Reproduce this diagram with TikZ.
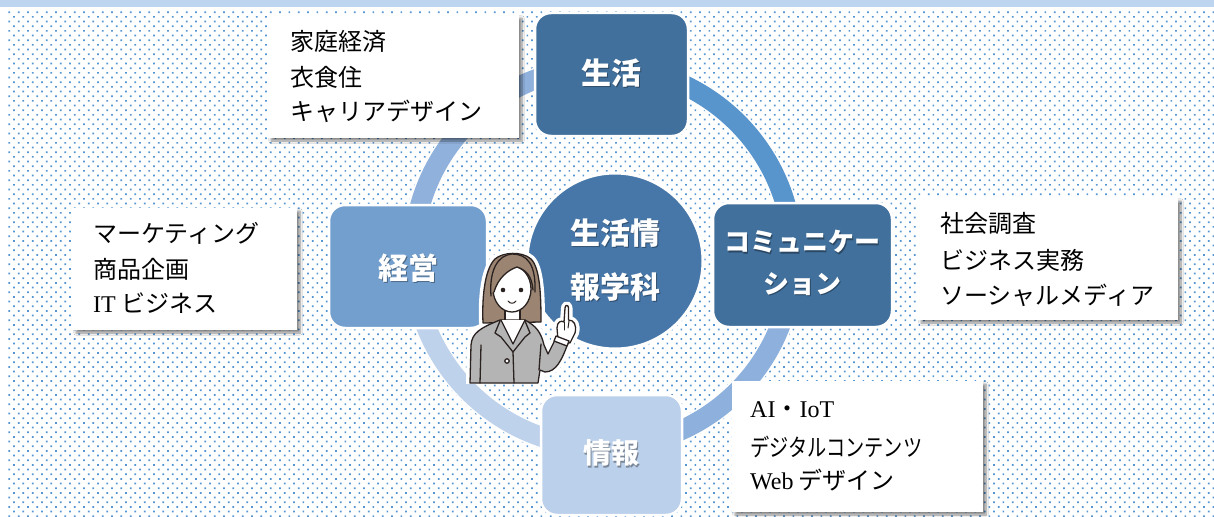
\documentclass[tikz,border=0pt]{standalone}
\usepackage{fontspec}
\usepackage{graphicx}
\setmainfont{Noto Sans CJK JP}
\newfontfamily\latserif{Liberation Serif}
\usetikzlibrary{patterns.meta,shadows.blur}

\definecolor{stripe}{HTML}{BDD5EE}
\definecolor{dotblue}{HTML}{5596D2}
\definecolor{deepbox}{HTML}{41709C}
\definecolor{hubblue}{HTML}{4777A8}
\definecolor{midbox}{HTML}{729FCE}
\definecolor{palebox}{HTML}{BBD0EA}
\definecolor{ringNE}{HTML}{5995CD}
\definecolor{ringSE}{HTML}{8DB0DD}
\definecolor{ringSW}{HTML}{BED2EB}
\definecolor{ringNW}{HTML}{90B1DB}
\definecolor{hair}{HTML}{9C8472}
\definecolor{suit}{HTML}{B4B4B4}
\definecolor{ink}{HTML}{2A2220}

\begin{document}
\begin{tikzpicture}[x=1pt,y=-1pt,
  topic/.style={draw=white, line width=2.5pt, rounded corners=16pt, inner sep=0pt},
  topiclabel/.style={text=white, font=\bfseries\fontsize{#1}{#1}\selectfont, inner sep=0pt},
  labelshade/.style={text=black, opacity=0.35, font=\bfseries\fontsize{#1}{#1}\selectfont, inner sep=0pt},
  listbox/.style={fill=white, inner sep=0pt,
    blur shadow={shadow xshift=3pt, shadow yshift=-3pt, shadow blur steps=8, shadow opacity=45}},
  listitem/.style={anchor=west, inner sep=0pt, font=\fontsize{24}{28}\selectfont},
  ringarc/.style={line width=20pt},
  outline/.style={draw=ink, line width=1.3pt, line join=round, line cap=round},
  backhair/.style={insert path={(483,323) .. controls (482,300) and (484,270) .. (495,259)
      .. controls (503,252) and (522,251) .. (531,259)
      .. controls (540,268) and (541,295) .. (541,322) -- cycle}},
  jacket/.style={insert path={(470,383) -- (471,345) .. controls (472,333) and (480,328) .. (500,320)
      -- (525,320) .. controls (536,326) and (541,332) .. (544,345) -- (548,354) -- (556,338)
      -- (568,343) .. controls (562,360) and (556,372) .. (545,372) -- (540,370) -- (538,383) -- cycle}},
  handshape/.style={insert path={(558,340) -- (557,328) .. controls (557,322) and (561,320) .. (564,322)
      -- (565,308) .. controls (565,304.5) and (568.5,304.5) .. (568.5,308) -- (568.5,320)
      .. controls (574,320) and (577,325) .. (575,333) -- (570,343) -- cycle}},
]

% page, top band and dotted field
\path[fill=white] (0,0) rectangle (1214,516);
\fill[stripe] (0,0) rectangle (1214,7);
\fill[pattern={Dots[distance=6.6pt, angle=45, radius=1.2pt]}, pattern color=dotblue]
  (8,10) rectangle (1214,516);

% cycle ring
\coordinate (ringc) at (603,257);
\draw[white, line width=23pt] (ringc) circle[radius=190];
\draw[ringarc, ringNE] ([shift={(270:190)}]ringc) arc[start angle=270, end angle=360, radius=190];
\draw[ringarc, ringSE] ([shift={(0:190)}]ringc) arc[start angle=0, end angle=90, radius=190];
\draw[ringarc, ringSW] ([shift={(90:190)}]ringc) arc[start angle=90, end angle=180, radius=190];
\draw[ringarc, ringNW] ([shift={(180:190)}]ringc) arc[start angle=180, end angle=270, radius=190];

% central circle
\node[circle, fill=hubblue, draw=white, line width=3pt, minimum size=176pt, inner sep=0pt] (hub) at (615,261) {};
\node[labelshade=30] (hubs1) at (616.5,234.5) {生活情};
\node[labelshade=30] (hubs2) at (616.5,288.5) {報学科};
\node[topiclabel=30] (hubt1) at (615,233) {生活情};
\node[topiclabel=30] (hubt2) at (615,287) {報学科};

% topic boxes
\node[topic, fill=deepbox, minimum width=153pt, minimum height=123pt] (life) at (611.5,74.5) {};
\node[topic, fill=deepbox, minimum width=179pt, minimum height=124pt] (comm) at (802.5,265) {};
\node[topic, fill=midbox, minimum width=158pt, minimum height=123pt] (mgmt) at (408,266.5) {};
\node[topic, fill=palebox, minimum width=141pt, minimum height=120pt] (info) at (611.5,455) {};

\node[labelshade=30] (lifes) at (612.5,74.5) {生活};
\node[topiclabel=30] (lifet) at (611,73) {生活};
\node[labelshade=26] (comms1) at (803.5,243.5) {コミュニケー};
\node[labelshade=26] (comms2) at (803.5,285.5) {ション};
\node[topiclabel=26] (commt1) at (802,242) {コミュニケー};
\node[topiclabel=26] (commt2) at (802,284) {ション};
\node[labelshade=30] (mgmts) at (409.5,269.5) {経営};
\node[topiclabel=30] (mgmtt) at (408,268) {経営};
\node[labelshade=28] (infos) at (612.5,454.5) {情報};
\node[topiclabel=28] (infot) at (611,453) {情報};

% subject lists
\node[listbox, minimum width=251pt, minimum height=123pt] (lifelist) at (393.5,76.5) {};
\node[listitem] (life1) at (290,42) {家庭経済};
\node[listitem] (life2) at (290,77) {衣食住};
\node[listitem] (life3) at (290,111) {キャリアデザイン};

\node[listbox, minimum width=224pt, minimum height=122pt] (mgmtlist) at (185,269) {};
\node[listitem] (mgmt1) at (93,233) {マーケティング};
\node[listitem] (mgmt2) at (93,269) {商品企画};
\node[listitem] (mgmt3) at (93,303) {{\latserif IT} ビジネス};

\node[listbox, minimum width=260pt, minimum height=122pt] (commlist) at (1048,259) {};
\node[listitem] (comm1) at (940,223) {社会調査};
\node[listitem] (comm2) at (940,260) {ビジネス実務};
\node[listitem] (comm3) at (940,295) {ソーシャルメディア};

\node[listbox, minimum width=251pt, minimum height=131pt] (infolist) at (857.5,446.5) {};
\node[listitem] (info1) at (750,410) {{\latserif AI}・{\latserif IoT}};
\node[listitem] (info2) at (750,447) {\scalebox{0.8}[1]{デジタルコンテンツ}};
\node[listitem] (info3) at (750,480) {{\latserif Web} デザイン};

% presenter figure: white halo first
\begin{scope}
  \clip (440,230) rectangle (600,383);
  \path[draw=white, line width=8pt, line join=round, backhair];
  \path[draw=white, line width=8pt, line join=round, jacket];
  \path[draw=white, line width=8pt, line join=round, handshape];
\end{scope}
% hair behind the head
\path[fill=hair, outline, backhair];
% neck
\path[fill=white, outline] (505,304) -- (505,321) -- (520,321) -- (520,304);
% jacket with arm
\path[fill=suit, outline, jacket];
\path[fill=white, outline] (501,320) -- (513,344) -- (525,320);
\draw[outline] (500,321) -- (495,333) -- (501,337) -- (513,352);
\draw[outline] (525,321) -- (530,333) -- (525,337) -- (513,352);
\draw[outline] (513,352) -- (514,383);
\draw[outline] (481,345) -- (480,383);
\draw[outline] (541,344) -- (539,370);
\path[fill=white, outline] (507,361) circle[radius=2.2];
% face and fringe
\path[fill=white, outline] (512,289) ellipse[x radius=19, y radius=23];
\path[fill=hair] (494,292) .. controls (498,278) and (508,270) .. (517,267)
  .. controls (526,270) and (532,276) .. (533,290) -- (536,282)
  .. controls (536,262) and (526,254) .. (512,254)
  .. controls (498,254) and (489,264) .. (490,292) -- cycle;
\draw[outline] (494,292) .. controls (498,278) and (508,270) .. (517,267)
  .. controls (526,270) and (532,276) .. (533,290);
\draw[outline] (491,296) .. controls (489,270) and (498,255) .. (512,254)
  .. controls (527,254) and (536,264) .. (535,292);
\fill[ink] (503,290) circle[radius=2.3];
\fill[ink] (521,290) circle[radius=2.3];
\draw[outline, line width=1pt] (508,301) .. controls (510,304) and (514,304) .. (516,301);
% pointing hand and cuff
\path[fill=white, outline, handshape];
\draw[outline, line width=1pt] (564,322) -- (564,330);
\draw[outline, line width=1pt] (569,321) -- (568,328);
\path[fill=white, outline] (556,336) -- (569,341) -- (567,346) -- (554,341) -- cycle;
\end{tikzpicture}
\end{document}
